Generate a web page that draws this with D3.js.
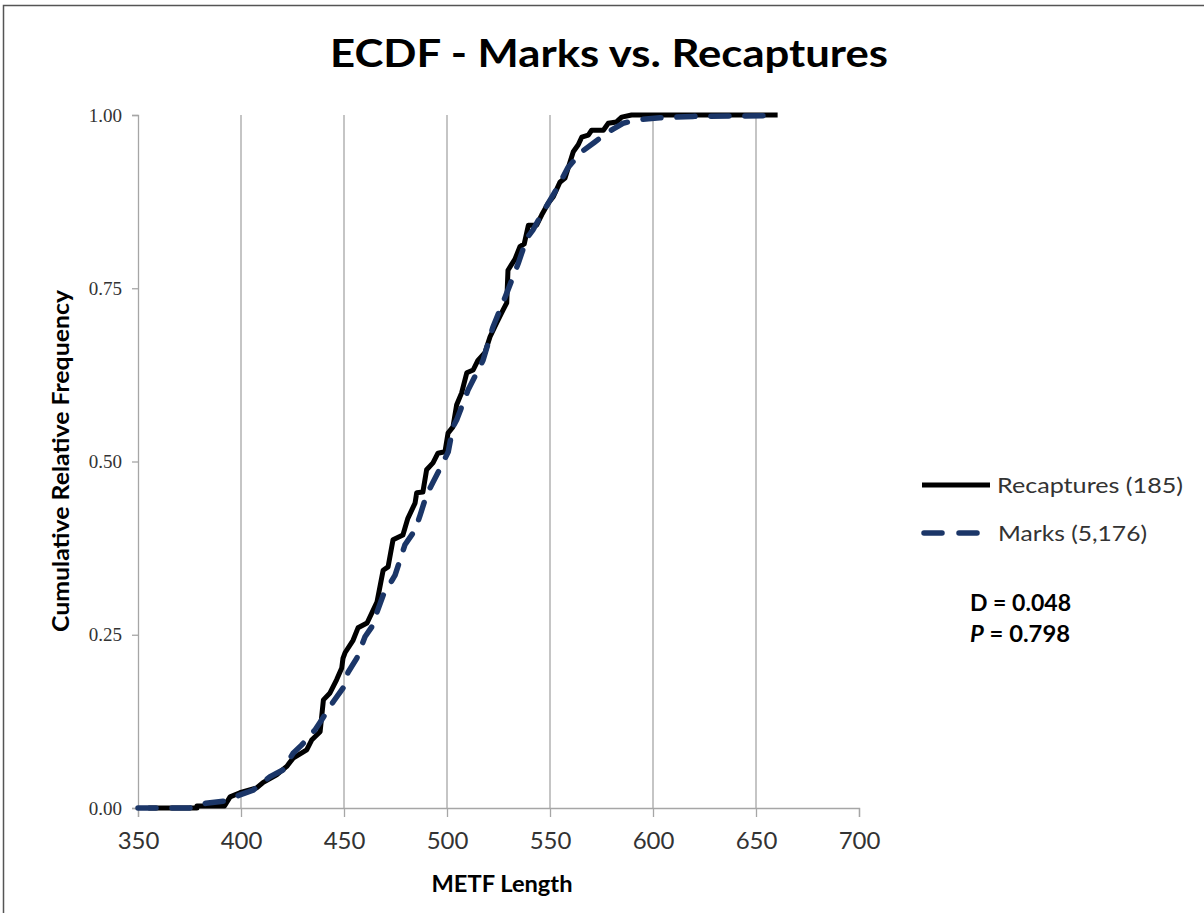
<!DOCTYPE html>
<html>
<head>
<meta charset="utf-8">
<script src="https://cdn.jsdelivr.net/npm/d3@7"></script>
<style>
  body { margin: 0; background: #fff; }
  svg { display: block; }
</style>
</head>
<body>
<svg id="chart" width="1204" height="913"></svg>
<script>
// ECDF values (METF length, cumulative relative frequency)
const recapLength = [355, 378.6, 378.6, 392, 394.7, 399.5, 407.6, 410.8, 417.3, 422.2, 425.3, 431.9, 434.3, 438.4, 440, 443.2, 446.4, 448.9, 449.5, 450.5, 454.4, 456.8, 461.2, 466, 469, 471.4, 473.8, 478.6, 481, 484.5, 485.3, 488.3, 490.1, 493.2, 495.6, 499, 500.5, 502.9, 504.7, 507.1, 509.6, 512.7, 515, 518.4, 520.9, 524.1, 527.3, 529, 529.6, 533, 535.4, 537.5, 539.5, 543.5, 546, 549.2, 551.6, 554.8, 557.3, 561.3, 563.7, 565.4, 568.6, 570.2, 575.9, 578.3, 582.3, 584.8, 589.6, 660.5];
const recapFreq = [0, 0, 0.003, 0.003, 0.016, 0.022, 0.029, 0.037, 0.048, 0.060, 0.072, 0.084, 0.098, 0.110, 0.156, 0.166, 0.185, 0.202, 0.216, 0.224, 0.242, 0.260, 0.267, 0.297, 0.343, 0.348, 0.387, 0.394, 0.418, 0.440, 0.455, 0.456, 0.488, 0.498, 0.512, 0.514, 0.541, 0.550, 0.582, 0.599, 0.628, 0.632, 0.646, 0.657, 0.680, 0.700, 0.719, 0.729, 0.776, 0.792, 0.810, 0.814, 0.841, 0.841, 0.856, 0.873, 0.882, 0.903, 0.909, 0.947, 0.957, 0.968, 0.971, 0.978, 0.978, 0.988, 0.990, 0.997, 1, 1];

const marksLength = [350, 375, 380, 383, 392, 399.5, 406, 414, 420.4, 425.3, 429.5, 436, 440, 444.7, 449.5, 452, 456.2, 460.2, 463.4, 469, 474.8, 479.6, 484.5, 487, 490.1, 493.2, 498, 500.6, 502.9, 504.7, 510.2, 517.5, 522.3, 529, 534.6, 538.7, 541.7, 546.6, 552.4, 558.7, 565.4, 571.8, 577.5, 585.4, 592, 603.4, 619.4, 660.5];
const marksFreq = [0, 0, 0.004, 0.007, 0.010, 0.019, 0.026, 0.045, 0.055, 0.079, 0.091, 0.113, 0.131, 0.153, 0.173, 0.196, 0.216, 0.247, 0.261, 0.307, 0.336, 0.380, 0.401, 0.423, 0.452, 0.470, 0.498, 0.514, 0.550, 0.560, 0.603, 0.646, 0.694, 0.743, 0.786, 0.822, 0.834, 0.860, 0.889, 0.924, 0.947, 0.961, 0.974, 0.988, 0.993, 0.996, 0.998, 0.999];

const xTicks = [350, 400, 450, 500, 550, 600, 650, 700];
const yTicks = [0, 0.25, 0.5, 0.75, 1];
const seriesNames = ["Recaptures (185)", "Marks (5,176)"];
const legendWidths = [186, 149];

const svg = d3.select("#chart");
const sans = "Lato, 'Open Sans', sans-serif";

// outer frame
svg.append("rect")
    .attr("x", 3.5).attr("y", 5.5)
    .attr("width", 1230).attr("height", 940)
    .attr("fill", "none").attr("stroke", "#555").attr("stroke-width", 1.5);

const x = d3.scaleLinear().domain([350, 700]).range([138, 859]);
const y = d3.scaleLinear().domain([0, 1]).range([808, 115]);

// vertical gridlines
svg.append("g").selectAll("line")
    .data(xTicks.filter(d => d > 350 && d < 700))
    .enter().append("line")
    .attr("x1", d => x(d)).attr("x2", d => x(d))
    .attr("y1", y(1)).attr("y2", y(0))
    .attr("stroke", "#a6a6a6").attr("stroke-width", 1.3);

// x axis
const xAxis = svg.append("g")
    .attr("transform", "translate(0," + y(0) + ")")
    .call(d3.axisBottom(x).tickValues(xTicks).tickSize(9).tickPadding(15).tickFormat(d3.format("d")));
xAxis.select(".domain").attr("stroke", "#a6a6a6").attr("stroke-width", 1.3);
xAxis.selectAll(".tick line").attr("stroke", "#a6a6a6").attr("stroke-width", 1.3);
xAxis.selectAll("text")
    .attr("font-family", sans).attr("font-size", 24).attr("fill", "#333");

// y axis
const yAxis = svg.append("g")
    .attr("transform", "translate(" + x(350) + ",0)")
    .call(d3.axisLeft(y).tickValues(yTicks).tickSize(6).tickPadding(10).tickFormat(d3.format(".2f")));
yAxis.select(".domain").attr("stroke", "#a6a6a6").attr("stroke-width", 1.3);
yAxis.selectAll(".tick line").attr("stroke", "#a6a6a6").attr("stroke-width", 1.3);
yAxis.selectAll("text")
    .attr("font-family", "'Liberation Serif', 'Times New Roman', serif")
    .attr("font-size", 19).attr("fill", "#333");

const recapPts = recapLength.map((d, i) => [d, recapFreq[i]]);
const marksPts = marksLength.map((d, i) => [d, marksFreq[i]]);
const line = d3.line().x(d => x(d[0])).y(d => y(d[1]));

svg.append("path")
    .attr("d", line(recapPts))
    .attr("fill", "none").attr("stroke", "#000")
    .attr("stroke-width", 5).attr("stroke-linejoin", "round");

svg.append("path")
    .attr("d", line(marksPts))
    .attr("fill", "none").attr("stroke", "#1b3668")
    .attr("stroke-width", 5.5).attr("stroke-linecap", "round")
    .attr("stroke-dasharray", "18,16");

// titles
svg.append("text")
    .attr("x", 609).attr("y", 67)
    .attr("text-anchor", "middle")
    .attr("font-family", sans).attr("font-weight", "bold").attr("font-size", 38)
    .attr("textLength", 558).attr("lengthAdjust", "spacingAndGlyphs")
    .text("ECDF - Marks vs. Recaptures");

svg.append("text")
    .attr("x", 502).attr("y", 892)
    .attr("text-anchor", "middle")
    .attr("font-family", sans).attr("font-weight", "bold").attr("font-size", 22)
    .attr("textLength", 141).attr("lengthAdjust", "spacingAndGlyphs")
    .text("METF Length");

svg.append("text")
    .attr("transform", "translate(69,461) rotate(-90)")
    .attr("text-anchor", "middle")
    .attr("font-family", sans).attr("font-weight", "bold").attr("font-size", 22)
    .attr("textLength", 342).attr("lengthAdjust", "spacingAndGlyphs")
    .text("Cumulative Relative Frequency");

// legend
const legend = svg.append("g");
legend.append("line")
    .attr("x1", 922).attr("x2", 990).attr("y1", 485).attr("y2", 485)
    .attr("stroke", "#000").attr("stroke-width", 5);
legend.append("line")
    .attr("x1", 924).attr("x2", 978).attr("y1", 533).attr("y2", 533)
    .attr("stroke", "#1b3668").attr("stroke-width", 5.5).attr("stroke-linecap", "round")
    .attr("stroke-dasharray", "18,17");
legend.selectAll("text.lab")
    .data(seriesNames)
    .enter().append("text")
    .attr("class", "lab")
    .attr("x", (d, i) => i ? 998 : 997)
    .attr("y", (d, i) => 493 + i * 48)
    .attr("font-family", sans).attr("font-size", 22).attr("fill", "#333")
    .attr("textLength", (d, i) => legendWidths[i]).attr("lengthAdjust", "spacingAndGlyphs")
    .text(d => d);

// KS statistics
svg.append("text")
    .attr("x", 970).attr("y", 611)
    .attr("font-family", sans).attr("font-weight", "bold").attr("font-size", 22)
    .attr("textLength", 101).attr("lengthAdjust", "spacingAndGlyphs")
    .text("D = 0.048");
const pText = svg.append("text")
    .attr("x", 970).attr("y", 642)
    .attr("font-family", sans).attr("font-weight", "bold").attr("font-size", 22)
    .attr("textLength", 100).attr("lengthAdjust", "spacingAndGlyphs");
pText.append("tspan").attr("font-style", "italic").text("P");
pText.append("tspan").text(" = 0.798");
</script>
</body>
</html>
